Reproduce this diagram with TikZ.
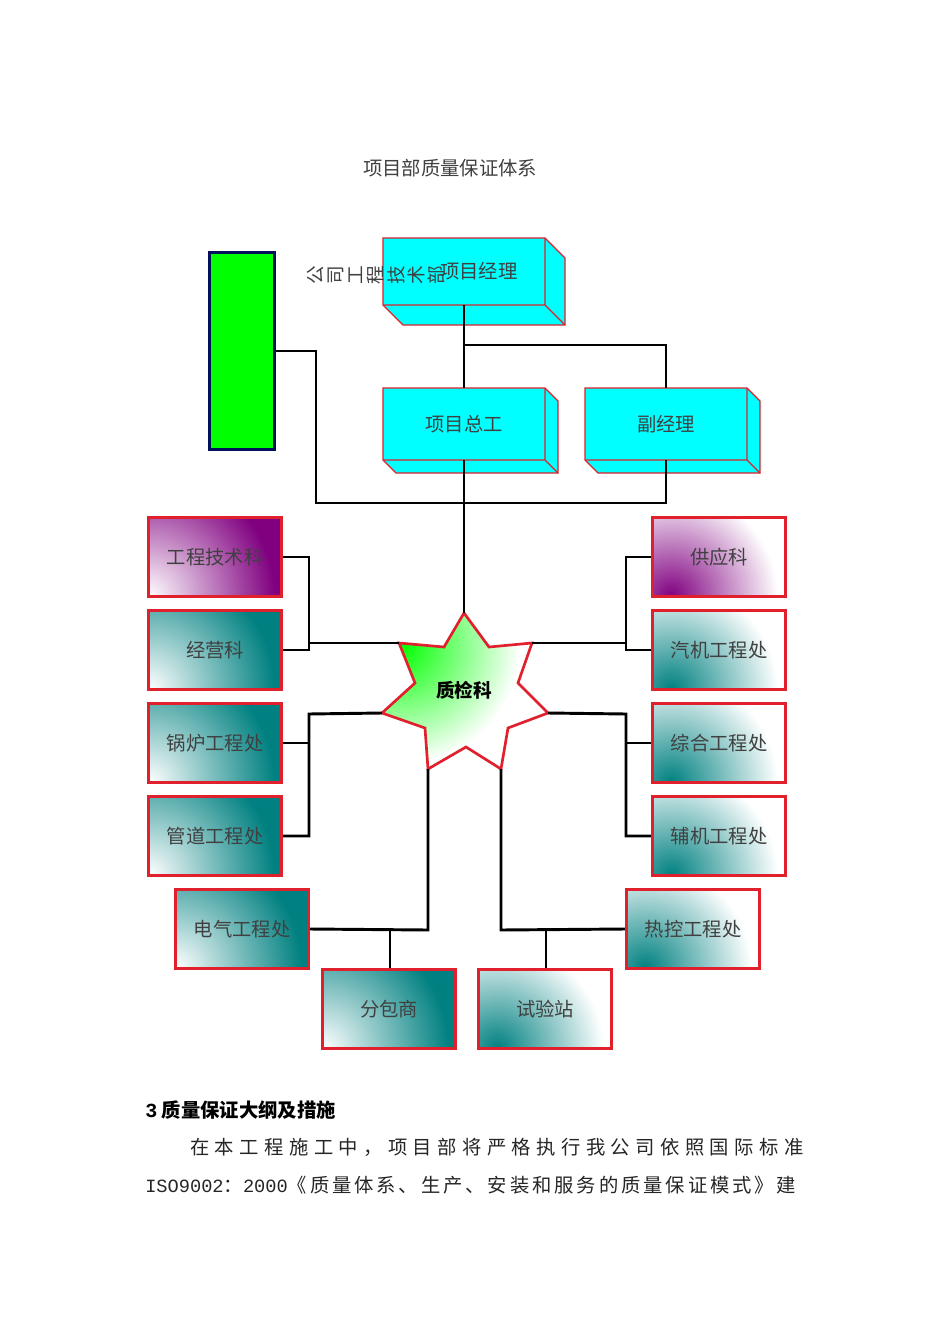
\documentclass[tikz,border=0pt]{standalone}
\usepackage{fontspec}
\setmainfont{Noto Sans CJK SC}
\newfontfamily\cjk{Noto Sans CJK SC}
\newfontfamily\cjksp[LetterSpace=28]{Noto Sans CJK SC}
\newfontfamily\cjkspb[LetterSpace=15]{Noto Sans CJK SC}
\newfontfamily\monof{Liberation Mono}
\definecolor{redb}{HTML}{E0202C}
\definecolor{tealc}{HTML}{008080}
\definecolor{purp}{HTML}{800080}
\definecolor{navy2}{HTML}{00105A}
\definecolor{cyanb}{HTML}{00FFFF}
\definecolor{greenb}{HTML}{00FF00}
\tikzset{
  line/.style={line width=2.2pt,black},
  lbl/.style={font=\fontsize{14.5pt}{16pt}\cjk,text=black!75},
  leftbox/.style={draw=redb,line width=2.2pt,minimum width=100pt,minimum height=59pt,
     path picture={\fill[#1] (path picture bounding box.south west) rectangle (path picture bounding box.north east);
       \shade[inner color=white,outer color=#1] (path picture bounding box.south west) circle (95pt);}},
  rightbox/.style={draw=redb,line width=2.2pt,minimum width=100pt,minimum height=59pt,
     path picture={\fill[white] (path picture bounding box.south west) rectangle (path picture bounding box.north east);
       \shade[inner color=#1,outer color=white] ([xshift=14pt]path picture bounding box.south west) circle (80pt);}},
}
\begin{document}
\begin{tikzpicture}[x=0.75pt,y=-0.75pt]
\useasboundingbox (0,0) rectangle (950,1344);
\fill[white] (0,0) rectangle (950,1344);
\node[font=\fontsize{14.5pt}{16pt}\cjk,text=black!75] (title) at (450,168) {项目部质量保证体系};
% 3D boxes
\newcommand\tdbox[7]{%
  \fill[cyanb] (#2,#3)--(#4,#3)--(#4+#6,#3+#6)--(#4+#6,#5+#6)--(#2+#6,#5+#6)--(#2,#5)--cycle;
  \draw[redb,line width=1pt] (#2,#3)--(#4,#3)--(#4+#6,#3+#6)--(#4+#6,#5+#6)--(#2+#6,#5+#6)--(#2,#5)--cycle;
  \draw[redb,line width=1pt] (#2,#5)--(#4,#5)--(#4,#3) (#4,#5)--(#4+#6,#5+#6);
  \node[lbl,inner sep=0] (#1) at ({(#2+#4)/2},{(#3+#5)/2}) {#7};}
\tdbox{pm}{383}{238}{545}{305}{20}{\hspace{22pt}项目经理}
\tdbox{zg}{383}{388}{545}{460}{13}{项目总工}
\tdbox{fj}{585}{388}{747}{460}{13}{副经理}
\coordinate (pmb) at (464,305); \coordinate (zgt) at (464,388); \coordinate (zgb) at (464,460);
\coordinate (fjt) at (666,388); \coordinate (fjb) at (666,460);
% green box
\node[draw=navy2,fill=greenb,line width=2pt,minimum width=49pt,minimum height=148pt,anchor=north west] (gs) at (208,251) {};
\foreach \c [count=\i] in {公,司,工,程,技,术,部}
  \node[font=\fontsize{14pt}{16pt}\cjk,text=black!75,rotate=90,inner sep=0] at (296+\i*20,275) {\c};
% star
\coordinate (s1) at (464,613); \coordinate (s2) at (532,643); \coordinate (s3) at (548,713);
\coordinate (s4) at (501,769); \coordinate (s5) at (428,769); \coordinate (s6) at (382,713);
\coordinate (s7) at (399,643);
\begin{scope}
\clip (s1)--(489,647)--(s2)--(518,683)--(s3)--(508,728)--(s4)--(466,747)--(s5)--(425,728)--(s6)--(415,683)--(s7)--(444,647)--cycle;
\fill[white] (370,600) rectangle (560,780);
\shade[inner color=greenb,outer color=white] (400,645) circle (120);
\end{scope}
\draw[redb,line width=2pt,line join=miter]
  (s1)--(489,647)--(s2)--(518,683)--(s3)--(508,728)--(s4)--(466,747)--(s5)--(425,728)--(s6)--(415,683)--(s7)--(444,647)--cycle;
\node[font=\fontsize{14pt}{16pt}\cjk\bfseries] (zj) at (464,690) {质检科};
% side boxes
\node[leftbox=purp,lbl] (b1) at (215,557) {工程技术科};
\node[leftbox=tealc,lbl] (b2) at (215,650) {经营科};
\node[leftbox=tealc,lbl] (b3) at (215,743) {锅炉工程处};
\node[leftbox=tealc,lbl] (b4) at (215,836) {管道工程处};
\node[leftbox=tealc,lbl] (b5) at (242,929) {电气工程处};
\node[leftbox=tealc,lbl] (b6) at (389,1009) {分包商};
\node[rightbox=tealc,lbl] (b7) at (545,1009) {试验站};
\node[rightbox=tealc,lbl] (b8) at (693,929) {热控工程处};
\node[rightbox=purp,lbl] (r1) at (719,557) {供应科};
\node[rightbox=tealc,lbl] (r2) at (719,650) {汽机工程处};
\node[rightbox=tealc,lbl] (r3) at (719,743) {综合工程处};
\node[rightbox=tealc,lbl] (r4) at (719,836) {辅机工程处};
% connectors top
\draw[line] (pmb) -- (zgt);
\draw[line] (464,345) -| (fjt);
\draw[line] (gs.east |- 0,351) -- (316,351) -- (316,503) -| (fjb);
\draw[line] (zgb) -- (s1);
% left
\draw[line] (b1.east) -| (309,650) -- (b2.east);
\draw[line] (309,643) -- (s7);
\draw[line] (s6) -- (309,714) |- (b4.east);
\draw[line] (309,743) -- (b3.east);
% right
\draw[line] (r1.west) -| (626,650) -- (r2.west);
\draw[line] (626,643) -- (s2);
\draw[line] (s3) -- (626,714) |- (r4.west);
\draw[line] (626,743) -- (r3.west);
% bottom
\draw[line] (s5) -- (428,930) -- (b5.east);
\draw[line] (390,930) -- (b6.north -| 390,0);
\draw[line] (s4) -- (501,930) -- (b8.west);
\draw[line] (546,930) -- (b7.north -| 546,0);
% text below
\node[anchor=west,font=\fontsize{14.5pt}{16pt}\cjk\bfseries,inner sep=0] (h3) at (145,1110) {{\monof\fontsize{15pt}{16pt}\selectfont 3} 质量保证大纲及措施};
\node[anchor=west,font=\fontsize{14.5pt}{16pt}\cjksp,inner sep=0,text=black!85] (p1) at (190,1147) {在本工程施工中，项目部将严格执行我公司依照国际标准};
\node[anchor=west,font=\fontsize{14.5pt}{16pt}\cjkspb,inner sep=0,text=black!85] (p2) at (145,1185) {{\monof\fontsize{14pt}{16pt}\selectfont ISO9002}：{\monof\fontsize{14pt}{16pt}\selectfont 2000}《质量体系、生产、安装和服务的质量保证模式》建};
\end{tikzpicture}
\end{document}
